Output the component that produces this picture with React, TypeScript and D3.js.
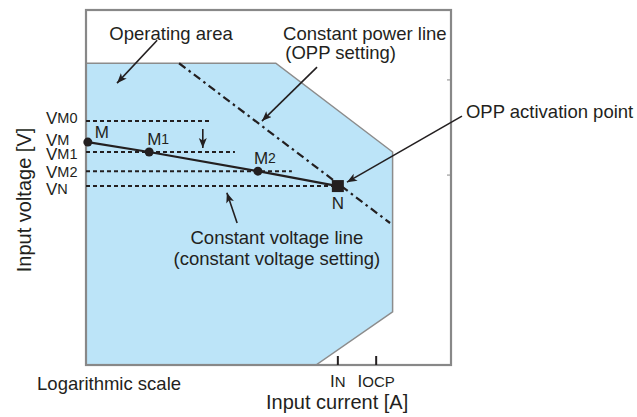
import React from "react";
import * as d3 from "d3";

// ---- data (schematic units, 0..100 on both axes) ----
const areaX = [0, 52, 84, 84, 63, 0];
const areaY = [85, 85, 60, 15, 0, 0];

const powerLineX = [25.5, 83.3];
const powerLineY = [85, 40];

const levelNames = ["M0", "M", "M1", "M2", "N"];
const levelValues = [68.7, 62.8, 60, 54.6, 50.4];

const dashedNames = ["M0", "M1", "M2", "N"];
const dashedY = [68.7, 60, 54.6, 50.4];
const dashedEndX = [34.5, 40.8, 56.4, 69];

const pointNames = ["M", "M1", "M2", "N"];
const pointX = [0.5, 17.3, 47.1, 69];
const pointY = [62.8, 60, 54.6, 50.4];

const xTickNames = ["N", "OCP"];
const xTickValues = [69, 79.5];
const rightTickValues = [53.5, 80.3];

const W = 637;
const H = 417;
const FONT = "'Liberation Sans', Arial, Helvetica, sans-serif";
const INK = "#231f20";

// small vertical nudges (px) for the level labels so they do not collide
const levelLabelNudge = [-3, -2, 2, 1, 3];

export default function App() {
  const x = d3.scaleLinear().domain([0, 100]).range([86, 451]);
  const y = d3.scaleLinear().domain([0, 100]).range([365, 10]);

  const areaPts = areaX.map((v, i) => [x(v), y(areaY[i])] as [number, number]);
  const areaPath = d3.line()(areaPts) + "Z";
  const curve = d3.line()(pointX.map((v, i) => [x(v), y(pointY[i])] as [number, number]));

  const sub = (base: string, s: string, big: number, small: number) => (
    <>
      <tspan fontSize={big}>{base}</tspan>
      <tspan fontSize={small}>{s}</tspan>
    </>
  );

  const arrow = (x1: number, y1: number, x2: number, y2: number, key: string) => (
    <line
      key={key}
      x1={x(x1)}
      y1={y(y1)}
      x2={x(x2)}
      y2={y(y2)}
      stroke={INK}
      strokeWidth={1.6}
      markerEnd="url(#ah)"
    />
  );

  const pointLabelOffset: Record<string, [number, number]> = {
    M: [14, -10],
    M1: [9, -13],
    M2: [7, -13],
    N: [0, 17],
  };

  return (
    <svg
      width={W}
      height={H}
      style={{ position: "absolute", left: 0, top: 0, background: "#fff" }}
      fontFamily={FONT}
    >
      <defs>
        <marker
          id="ah"
          markerUnits="userSpaceOnUse"
          markerWidth={12}
          markerHeight={10}
          refX={10}
          refY={4}
          orient="auto"
        >
          <path d="M0,0 L10,4 L0,8 L2.5,4 Z" fill={INK} />
        </marker>
      </defs>

      {/* operating area */}
      <path d={areaPath} fill="#bce4f8" stroke="#8c8c8c" strokeWidth={1.5} />

      {/* frame */}
      <rect
        x={x(0)}
        y={y(100)}
        width={x(100) - x(0)}
        height={y(0) - y(100)}
        fill="none"
        stroke="#888"
        strokeWidth={2.2}
      />
      {rightTickValues.map((v, i) => (
        <line key={"rt" + i} x1={x(100) - 4} x2={x(100)} y1={y(v)} y2={y(v)} stroke="#888" strokeWidth={1} />
      ))}

      {/* x ticks */}
      {xTickValues.map((v, i) => (
        <g key={"xt" + i}>
          <line x1={x(v)} x2={x(v)} y1={y(0) - 9} y2={y(0)} stroke={INK} strokeWidth={2} />
          <text x={x(v)} y={y(0) + 22} textAnchor="middle" fill={INK}>
            {sub("I", xTickNames[i], 17, 15)}
          </text>
        </g>
      ))}

      {/* dashed constant-voltage levels */}
      {dashedY.map((v, i) => (
        <line
          key={"dl" + dashedNames[i]}
          x1={x(0)}
          x2={x(dashedEndX[i])}
          y1={y(v)}
          y2={y(v)}
          stroke={INK}
          strokeWidth={2}
          strokeDasharray="4,3"
        />
      ))}

      {/* constant power line (dash-dot) */}
      <line
        x1={x(powerLineX[0])}
        y1={y(powerLineY[0])}
        x2={x(powerLineX[1])}
        y2={y(powerLineY[1])}
        stroke={INK}
        strokeWidth={2.2}
        strokeDasharray="8,4,2.5,4"
      />

      {/* operating curve */}
      <path d={curve || ""} fill="none" stroke={INK} strokeWidth={2.2} />
      {pointNames.map((n, i) =>
        n === "N" ? (
          <rect key={"p" + n} x={x(pointX[i]) - 6} y={y(pointY[i]) - 6} width={12} height={12} fill={INK} />
        ) : (
          <circle key={"p" + n} cx={x(pointX[i])} cy={y(pointY[i])} r={4.5} fill={INK} />
        )
      )}
      {pointNames.map((n, i) => {
        const [dx, dy] = pointLabelOffset[n];
        return (
          <text
            key={"pl" + n}
            x={x(pointX[i]) + dx}
            y={y(pointY[i]) + dy}
            textAnchor="middle"
            dominantBaseline="central"
            fill={INK}
          >
            {sub(n[0], n.slice(1), 17, 14)}
          </text>
        );
      })}

      {/* y level labels */}
      {levelNames.map((n, i) => (
        <text
          key={"yl" + n}
          x={46}
          y={y(levelValues[i]) + levelLabelNudge[i]}
          dominantBaseline="central"
          fill={INK}
        >
          {sub("V", n, 17, 14.5)}
        </text>
      ))}

      {/* annotation arrows */}
      {arrow(19.5, 91.5, 8.5, 79.4, "a1")}
      {arrow(63.3, 83.9, 48.2, 68.7, "a2")}
      {arrow(32, 66.5, 32, 61.1, "a3")}
      {arrow(41.4, 40, 38.6, 48.5, "a4")}
      {arrow(103, 70.1, 71.5, 51.5, "a5")}

      {/* annotation texts */}
      <g fill={INK} fontSize={18.5}>
        <text x={x(23.3)} y={y(93.5)} textAnchor="middle" dominantBaseline="central">
          Operating area
        </text>
        <text x={x(54)} y={y(93.5)} dominantBaseline="central">
          Constant power line
        </text>
        <text x={x(54.6)} y={y(87.9)} dominantBaseline="central">
          (OPP setting)
        </text>
        <text x={x(104.1)} y={y(71.3)} dominantBaseline="central">
          OPP activation point
        </text>
        <text x={x(52.3)} y={y(36)} textAnchor="middle" dominantBaseline="central">
          Constant voltage line
        </text>
        <text x={x(52.3)} y={y(30.1)} textAnchor="middle" dominantBaseline="central">
          (constant voltage setting)
        </text>
        <text x={x(-13.4)} y={y(-5.1)} dominantBaseline="central">
          Logarithmic scale
        </text>
      </g>

      {/* axis titles */}
      <text x={x(68.8)} y={y(-10.4)} textAnchor="middle" dominantBaseline="central" fontSize={20} fill={INK}>
        Input current [A]
      </text>
      <text
        transform={`translate(24, 200) rotate(-90)`}
        textAnchor="middle"
        dominantBaseline="central"
        fontSize={20}
        fill={INK}
      >
        Input voltage [V]
      </text>
    </svg>
  );
}
